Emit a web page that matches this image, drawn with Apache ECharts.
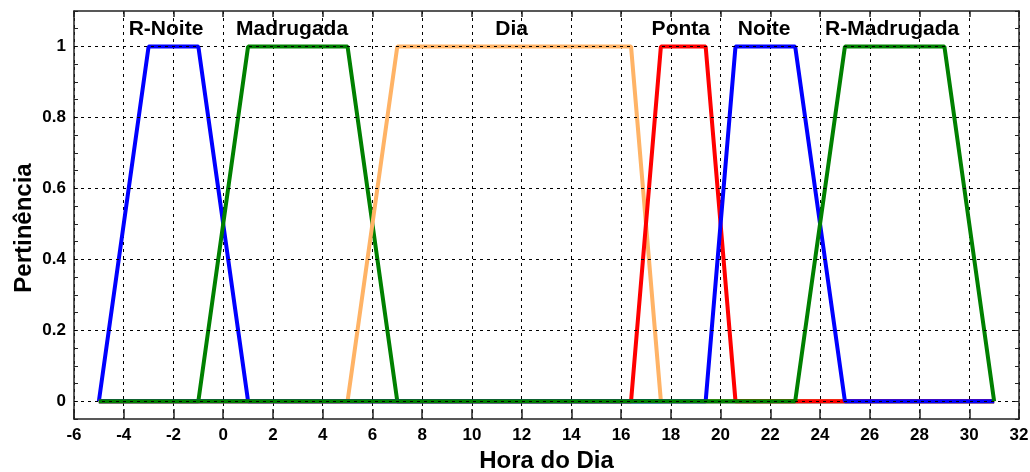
<!DOCTYPE html>
<html><head><meta charset="utf-8">
<script src="https://cdn.jsdelivr.net/npm/echarts@6/dist/echarts.min.js"></script>
<style>html,body{margin:0;padding:0;background:#fff}#c{width:1030px;height:472px}</style>
</head><body><div id="c"></div>
<script>
// Membership functions (hour, membership)
const rNoiteX = [-5, -3, -1, 1, 31];
const rNoiteY = [0, 1, 1, 0, 0];
const madrugadaX = [-5, -1, 1, 5, 7, 31];
const madrugadaY = [0, 0, 1, 1, 0, 0];
const diaX = [-5, 5, 7, 16.4, 17.6, 31];
const diaY = [0, 0, 1, 1, 0, 0];
const pontaX = [-5, 16.4, 17.6, 19.4, 20.6, 31];
const pontaY = [0, 0, 1, 1, 0, 0];
const noiteX = [-5, 19.4, 20.6, 23, 25, 31];
const noiteY = [0, 0, 1, 1, 0, 0];
const rMadX = [-5, 23, 25, 29, 31];
const rMadY = [0, 0, 1, 1, 0];

const seriesNames = ['R-Noite', 'Madrugada', 'Dia', 'Ponta', 'Noite', 'R-Madrugada'];
const seriesColors = ['#0000ff', '#008000', '#ffb366', '#ff0000', '#0000ff', '#008000'];
// annotation anchors (hour, membership) for the set names
const nameX = [-2.3, 2.77, 11.6, 18.4, 21.75, 26.9];
const nameY = [1.048, 1.048, 1.048, 1.048, 1.048, 1.048];

const yTicks = [0, 0.2, 0.4, 0.6, 0.8, 1];

const xs = [rNoiteX, madrugadaX, diaX, pontaX, noiteX, rMadX];
const ys = [rNoiteY, madrugadaY, diaY, pontaY, noiteY, rMadY];

const tickFont = {color: '#000', fontFamily: '"Liberation Sans Narrow", "Liberation Sans", Arial, sans-serif', fontWeight: 'bold', fontSize: 17};
const titleFont = {color: '#000', fontFamily: '"Liberation Sans", Arial, sans-serif', fontWeight: 'bold', fontSize: 24};
const axisLine = {show: true, onZero: false, lineStyle: {color: '#222', width: 1.5}};

const series = xs.map((xArr, i) => ({
  type: 'line', name: seriesNames[i], xAxisIndex: 0, yAxisIndex: 0,
  data: xArr.map((x, j) => [x, ys[i][j]]),
  showSymbol: false, symbol: 'none', z: 3,
  lineStyle: {color: seriesColors[i], width: 4},
  itemStyle: {color: seriesColors[i]}
}));

series.unshift({
  type: 'line', data: [], xAxisIndex: 0, yAxisIndex: 0, silent: true, z: 1,
  markLine: {
    silent: true, symbol: 'none', animation: false,
    label: {show: false},
    lineStyle: {color: '#000', type: [3, 4], width: 1},
    data: yTicks.map(v => ({yAxis: v}))
  }
});

series.push({
  type: 'scatter', xAxisIndex: 0, yAxisIndex: 0, silent: true, z: 5,
  symbolSize: 0,
  itemStyle: {opacity: 1},
  data: nameX.map((x, i) => [x, nameY[i], seriesNames[i]]),
  label: {
    show: true, position: 'inside', opacity: 1,
    formatter: p => p.value[2],
    color: '#000', fontFamily: '"Liberation Sans", Arial, sans-serif', fontWeight: 'bold', fontSize: 21
  }
});

const yFmt = v => {
  for (const t of yTicks) if (Math.abs(v - t) < 1e-6) return String(t);
  return '';
};

const chart = echarts.init(document.getElementById('c'), null, {renderer: 'canvas'});
chart.setOption({
  animation: false,
  backgroundColor: '#fff',
  grid: {left: 74, right: 11, top: 11, bottom: 53, containLabel: false, outerBoundsMode: 'none'},
  xAxis: [{
    type: 'value', min: -6, max: 32, interval: 2, position: 'bottom',
    axisLine: axisLine,
    axisTick: {show: true, inside: true, length: 10, lineStyle: {color: '#222', width: 1.5}},
    axisLabel: Object.assign({margin: 8}, tickFont),
    splitLine: {show: true, lineStyle: {color: '#000', type: [3, 4], width: 1}},
    name: 'Hora do Dia', nameLocation: 'middle', nameGap: 29, nameTextStyle: titleFont
  }, {
    type: 'value', min: -6, max: 32, interval: 2, position: 'top',
    axisLine: axisLine,
    axisTick: {show: true, inside: true, length: 6, lineStyle: {color: '#222', width: 1.5}},
    axisLabel: {show: false}, splitLine: {show: false}
  }],
  yAxis: [{
    type: 'value', min: -0.05, max: 1.1, interval: 0.05, position: 'left',
    axisLine: axisLine,
    axisTick: {show: true, inside: true, length: 4, lineStyle: {color: '#222', width: 1}},
    axisLabel: Object.assign({margin: 8, formatter: yFmt}, tickFont),
    splitLine: {show: false},
    name: 'Pertinência', nameLocation: 'middle', nameGap: 38, nameRotate: 90, nameMoveOverlap: false,
    nameTextStyle: Object.assign({padding: [0, 26, 0, 0]}, titleFont)
  }, {
    type: 'value', min: -0.05, max: 1.1, interval: 0.05, position: 'right',
    axisLine: axisLine,
    axisTick: {show: true, inside: true, length: 4, lineStyle: {color: '#222', width: 1}},
    axisLabel: {show: false}, splitLine: {show: false}
  }],
  series: series
});
</script></body></html>
